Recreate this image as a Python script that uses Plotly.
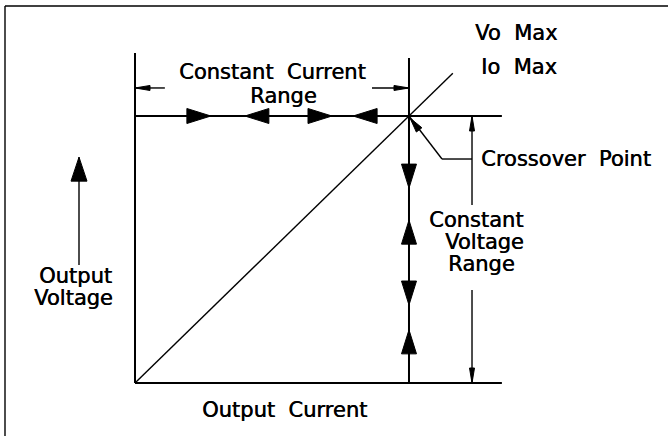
import math
import plotly.graph_objects as go

# Kennlinie in normierten Einheiten (Io Max = 1, Vo Max = 1)
io_max = 1.0
vo_max = 1.0
load_current = [0.0, 1.16]
load_voltage = [0.0, 1.16]
axis_current_end = 1.339
axis_voltage_top = [1.236, 1.217]   # Hilfslinien bei 0 und bei Io Max

# Pfeile auf den Grenzlinien
cc_arrow_current = [0.277, 0.401, 0.719, 0.796]
cc_arrow_dir = ["right", "left", "right", "left"]
cv_arrow_voltage = [0.730, 0.610, 0.292, 0.199]
cv_arrow_dir = ["down", "up", "down", "up"]

# Bemassung
cc_dim_voltage = 1.105
cc_dim_tails = [0.109, 0.865]
cv_dim_current = 1.230
cv_dim_gap = [0.667, 0.348]

W, H = 668, 436
X_RANGE = [-0.4927, 1.9453]
Y_RANGE = [-0.1985, 1.4345]
PX_X = W / (X_RANGE[1] - X_RANGE[0])
PX_Y = H / (Y_RANGE[1] - Y_RANGE[0])

DIRS = {"right": (1, 0), "left": (-1, 0), "up": (0, 1), "down": (0, -1)}


def head(x, y, d, length, half):
    dx, dy = d
    n = math.hypot(dx, dy)
    dx, dy = dx / n, dy / n
    bx, by = -dx * length, -dy * length
    px, py = -dy * half, dx * half
    xs = [x, x + (bx + px) / PX_X, x + (bx - px) / PX_X, x]
    ys = [y, y + (by + py) / PX_Y, y + (by - py) / PX_Y, y]
    return xs, ys


def seg(lst):
    xs, ys = [], []
    for (x0, y0, x1, y1) in lst:
        xs += [x0, x1, None]
        ys += [y0, y1, None]
    return xs, ys


fig = go.Figure()

# Achsen und Grenzlinien (dick)
hx, hy = seg([
    (0, 0, 0, axis_voltage_top[0]),
    (0, 0, axis_current_end, 0),
    (io_max, 0, io_max, axis_voltage_top[1]),
    (0, vo_max, axis_current_end, vo_max),
])
fig.add_trace(go.Scatter(x=hx, y=hy, mode="lines",
                         line=dict(color="black", width=2)))

# Lastgerade
fig.add_trace(go.Scatter(x=load_current, y=load_voltage, mode="lines",
                         line=dict(color="black", width=1.4)))

# Rahmen, Bemassung, Hinweislinien (duenn)
fx0 = X_RANGE[0] + 5 / PX_X
fy1 = Y_RANGE[1] - 6 / PX_Y
lead_x = io_max + 33 / PX_X
lead_y = vo_max - 43 / PX_Y
ov_x = -56 / PX_X
tx, ty = seg([
    (fx0, Y_RANGE[0], fx0, fy1),
    (fx0, fy1, X_RANGE[1], fy1),
    (0, cc_dim_voltage, cc_dim_tails[0], cc_dim_voltage),
    (cc_dim_tails[1], cc_dim_voltage, io_max, cc_dim_voltage),
    (cv_dim_current, vo_max, cv_dim_current, cv_dim_gap[0]),
    (cv_dim_current, cv_dim_gap[1], cv_dim_current, 0),
    (io_max, vo_max, lead_x, lead_y),
    (lead_x, lead_y, cv_dim_current, lead_y),
    (ov_x, 0.846, ov_x, 0.442),
])
fig.add_trace(go.Scatter(x=tx, y=ty, mode="lines",
                         line=dict(color="black", width=1.4)))

# Pfeilspitzen
heads = []
for c, d in zip(cc_arrow_current, cc_arrow_dir):
    heads.append(head(c, vo_max, DIRS[d], 24, 7.5))
for v, d in zip(cv_arrow_voltage, cv_arrow_dir):
    heads.append(head(io_max, v, DIRS[d], 24, 7.5))
heads.append(head(ov_x, 0.846, DIRS["up"], 24, 8))
heads.append(head(0, cc_dim_voltage, DIRS["left"], 15, 2.5))
heads.append(head(io_max, cc_dim_voltage, DIRS["right"], 15, 2.5))
heads.append(head(cv_dim_current, vo_max, DIRS["up"], 15, 2.5))
heads.append(head(cv_dim_current, 0, DIRS["down"], 15, 2.5))
heads.append(head(io_max + 1 / PX_X, vo_max - 2 / PX_Y, (-33, 43), 15, 3.5))

ax_, ay_ = [], []
for xs, ys in heads:
    ax_ += xs + [None]
    ay_ += ys + [None]
fig.add_trace(go.Scatter(x=ax_, y=ay_, mode="lines", fill="toself",
                         fillcolor="black", line=dict(color="black", width=1)))


def px2x(p):
    return (p - 135) / PX_X


def px2y(p):
    return (383 - p) / PX_Y


labels = [
    ("Vo  Max", 558, 33, "right"),
    ("Io  Max", 558, 67, "right"),
    ("Constant  Current", 272, 72, "center"),
    ("Range", 283, 96, "center"),
    ("Crossover  Point", 480, 159, "left"),
    ("Constant", 476, 220, "center"),
    ("Voltage", 484, 242, "center"),
    ("Range", 481, 264, "center"),
    ("Output", 113, 276, "right"),
    ("Voltage", 114, 298, "right"),
    ("Output  Current", 284, 410, "center"),
]
for text, px, py, anchor in labels:
    fig.add_annotation(x=px2x(px), y=px2y(py), text=text, showarrow=False,
                       xanchor=anchor, yanchor="middle", borderpad=0,
                       font=dict(family="DejaVu Sans", size=21, color="black",
                                 shadow="0.5px 0px 0px black"))

fig.update_layout(
    width=W, height=H,
    margin=dict(l=0, r=0, t=0, b=0),
    paper_bgcolor="white", plot_bgcolor="white",
    showlegend=False,
    xaxis=dict(range=X_RANGE, visible=False, fixedrange=True),
    yaxis=dict(range=Y_RANGE, visible=False, fixedrange=True),
)

fig.write_html("out.html", config=dict(displayModeBar=False),
               post_script="document.body.style.margin='0';"
                           "document.body.style.overflow='hidden';")
